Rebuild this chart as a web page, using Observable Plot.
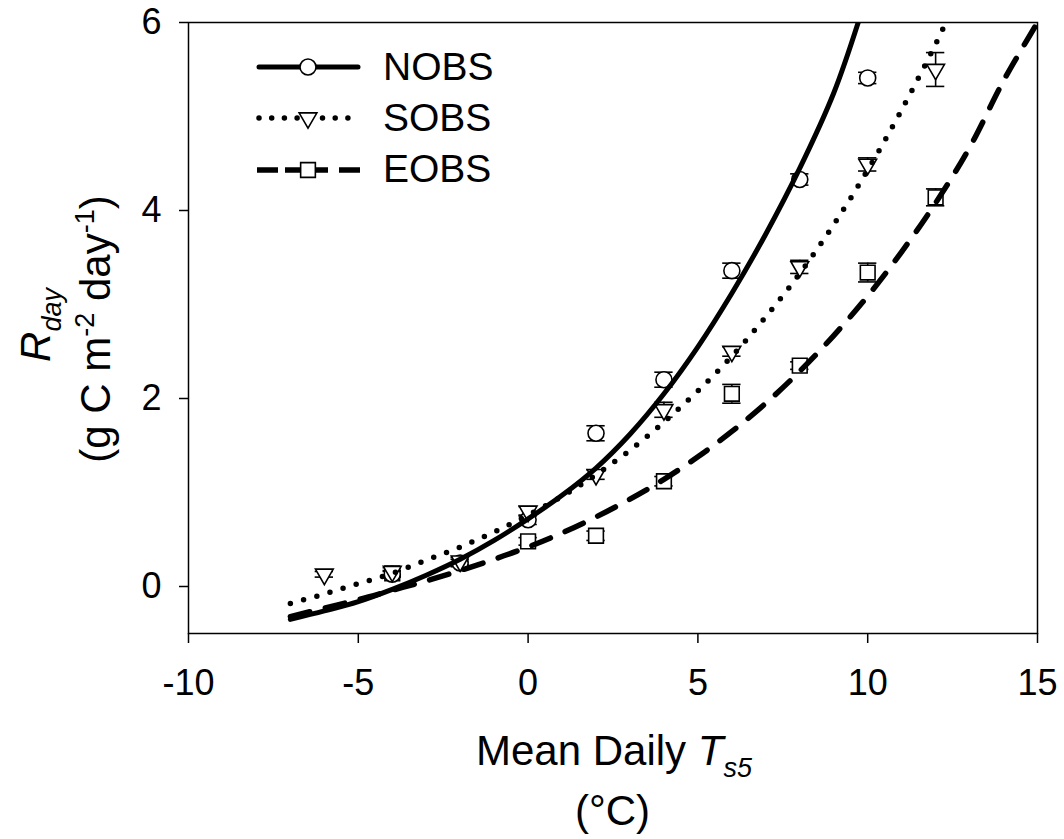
<!DOCTYPE html>
<html>
<head>
<meta charset="utf-8">
<script src="https://cdn.jsdelivr.net/npm/d3@7"></script>
<script src="https://cdn.jsdelivr.net/npm/@observablehq/plot@0.6"></script>
<style>
  body { margin: 0; background: #fff; }
  svg { font-family: "Liberation Sans", Arial, Helvetica, sans-serif; }
</style>
</head>
<body>
<div id="chart"></div>
<script>
// ---- tick labels ----
const xTicks = [-10, -5, 0, 5, 10, 15];
const yTicks = [0, 2, 4, 6];
const seriesNames = ["NOBS", "SOBS", "EOBS"];

// ---- observed points (mean daily Ts5, Rday, standard error) ----
const nobsT  = [-4, -2, 0, 2, 4, 6, 8, 10];
const nobsR  = [0.13, 0.25, 0.71, 1.63, 2.20, 3.36, 4.33, 5.41];
const nobsSE = [0.03, 0.04, 0.05, 0.08, 0.08, 0.08, 0.06, 0.06];

const sobsT  = [-6, -4, -2, 0, 2, 4, 6, 8, 10, 12];
const sobsR  = [0.13, 0.16, 0.27, 0.80, 1.19, 1.88, 2.50, 3.40, 4.49, 5.50];
const sobsSE = [0.03, 0.04, 0.04, 0.05, 0.05, 0.08, 0.05, 0.07, 0.07, 0.18];

const eobsT  = [-4, 0, 2, 4, 6, 8, 10, 12];
const eobsR  = [0.14, 0.48, 0.54, 1.12, 2.05, 2.35, 3.34, 4.14];
const eobsSE = [0.03, 0.04, 0.05, 0.05, 0.10, 0.04, 0.10, 0.09];

// ---- fitted curves ----
const nobsCurveT = [-7, -6, -5, -4, -3, -2, -1, 0, 1, 2, 3, 4, 5, 6, 7, 8, 9, 9.72];
const nobsCurveR = [-0.35, -0.26, -0.16, -0.03, 0.12, 0.29, 0.49, 0.72, 0.97, 1.26, 1.62, 2.05, 2.55, 3.12, 3.75, 4.45, 5.25, 6.0];

const sobsCurveT = [-7, -6, -5, -4, -3, -2, -1, 0, 1, 2, 3, 4, 5, 6, 7, 8, 9, 10, 11, 12, 12.3];
const sobsCurveR = [-0.18, -0.08, 0.03, 0.14, 0.28, 0.42, 0.58, 0.76, 0.96, 1.19, 1.45, 1.75, 2.08, 2.45, 2.87, 3.33, 3.85, 4.43, 5.07, 5.77, 6.0];

const eobsCurveT = [-7, -6, -5, -4, -3, -2, -1, 0, 1, 2, 3, 4, 5, 6, 7, 8, 9, 10, 11, 12, 13, 14, 15];
const eobsCurveR = [-0.32, -0.23, -0.14, -0.04, 0.06, 0.17, 0.29, 0.42, 0.57, 0.74, 0.93, 1.14, 1.38, 1.65, 1.95, 2.29, 2.67, 3.09, 3.56, 4.08, 4.67, 5.38, 6.0];

// ---- build tables ----
const pts = (T, R, SE, s) => T.map((t, i) => ({t, r: R[i], se: SE[i], s}));
const crv = (T, R, s) => T.map((t, i) => ({t, r: R[i], s}));
const nobs = pts(nobsT, nobsR, nobsSE, seriesNames[0]);
const sobs = pts(sobsT, sobsR, sobsSE, seriesNames[1]);
const eobs = pts(eobsT, eobsR, eobsSE, seriesNames[2]);
const allPts = [...nobs, ...sobs, ...eobs];

const triDown = {
  draw(ctx, size) {
    const s = Math.sqrt(4 * size / Math.sqrt(3));
    const h = s * Math.sqrt(3) / 2;
    ctx.moveTo(-s / 2, -h / 3);
    ctx.lineTo(s / 2, -h / 3);
    ctx.lineTo(0, 2 * h / 3);
    ctx.closePath();
  }
};

const capHalf = 0.27;
const lw = 1.6;
const fmt = d => String(d);

const plot = Plot.plot({
  width: 1064,
  height: 839,
  marginLeft: 188,
  marginRight: 27,
  marginTop: 22,
  marginBottom: 206,
  x: {domain: [-10, 15]},
  y: {domain: [-0.5, 6]},
  style: {background: "white", color: "black", fontFamily: "'Liberation Sans', Arial, sans-serif"},
  marks: [
    Plot.axisX(xTicks, {tickSize: 10, tickPadding: 26, fontSize: 36, strokeWidth: 1.5, label: null, tickFormat: fmt}),
    Plot.axisY(yTicks, {tickSize: 9, tickPadding: 18, fontSize: 36, strokeWidth: 1.5, label: null, tickFormat: fmt}),
    // error bars
    Plot.ruleX(allPts, {x: "t", y1: d => d.r - d.se, y2: d => d.r + d.se, stroke: "black", strokeWidth: lw}),
    Plot.ruleY(allPts, {y: d => d.r + d.se, x1: d => d.t - capHalf, x2: d => d.t + capHalf, stroke: "black", strokeWidth: lw}),
    Plot.ruleY(allPts, {y: d => d.r - d.se, x1: d => d.t - capHalf, x2: d => d.t + capHalf, stroke: "black", strokeWidth: lw}),
    // markers
    Plot.dot(eobs, {x: "t", y: "r", symbol: "square", r: 8.3, fill: "white", stroke: "black", strokeWidth: lw}),
    Plot.dot(nobs, {x: "t", y: "r", symbol: "circle", r: 8, fill: "white", stroke: "black", strokeWidth: lw}),
    Plot.dot(sobs, {x: "t", y: "r", symbol: triDown, r: 6.6, fill: "white", stroke: "black", strokeWidth: lw}),
    // fitted curves
    Plot.line(crv(nobsCurveT, nobsCurveR, "NOBS"), {x: "t", y: "r", curve: "catmull-rom", stroke: "black", strokeWidth: 5, strokeLinecap: "round", clip: true}),
    Plot.line(crv(sobsCurveT, sobsCurveR, "SOBS"), {x: "t", y: "r", curve: "catmull-rom", stroke: "black", strokeWidth: 5.5, strokeDasharray: "0 13.7", strokeLinecap: "round", clip: true}),
    Plot.line(crv(eobsCurveT, eobsCurveR, "EOBS"), {x: "t", y: "r", curve: "catmull-rom", stroke: "black", strokeWidth: 5.5, strokeDasharray: "20 16", strokeLinecap: "round", clip: true}),
    Plot.frame({stroke: "black", strokeWidth: 1.5})
  ]
});

const svg = d3.select(plot);
const F = "'Liberation Sans', Arial, sans-serif";

// ---- legend ----
const lg = svg.append("g").attr("fill", "none").attr("stroke", "black");
const legendY = [67, 118, 170];
const legendBase = [80, 131, 182];
lg.append("line").attr("x1", 259).attr("x2", 358).attr("y1", legendY[0]).attr("y2", legendY[0])
  .attr("stroke-width", 5).attr("stroke-linecap", "round");
lg.append("line").attr("x1", 259).attr("x2", 360).attr("y1", legendY[1]).attr("y2", legendY[1])
  .attr("stroke-width", 5.5).attr("stroke-linecap", "round").attr("stroke-dasharray", "0 12.7");
lg.append("line").attr("x1", 257).attr("x2", 360).attr("y1", legendY[2]).attr("y2", legendY[2])
  .attr("stroke-width", 5.5).attr("stroke-dasharray", "21 7 43 11 21");
lg.append("circle").attr("cx", 308).attr("cy", legendY[0]).attr("r", 8)
  .attr("fill", "white").attr("stroke-width", lw);
lg.append("path").attr("transform", `translate(308,${legendY[1]})`)
  .attr("d", d3.symbol(triDown, Math.PI * 6.6 * 6.6)())
  .attr("fill", "white").attr("stroke-width", lw);
lg.append("path").attr("transform", `translate(308,${legendY[2]})`)
  .attr("d", d3.symbol(d3.symbolSquare, Math.PI * 8.3 * 8.3)())
  .attr("fill", "white").attr("stroke-width", lw);
seriesNames.forEach((name, i) => {
  svg.append("text").attr("x", 383).attr("y", legendBase[i]).attr("text-anchor", "start")
    .attr("font-family", F).attr("font-size", 39).attr("fill", "black").text(name);
});

// ---- axis titles ----
const xt = svg.append("text").attr("x", 614).attr("y", 765).attr("text-anchor", "middle")
  .attr("font-family", F).attr("font-size", 42).attr("fill", "black");
xt.append("tspan").text("Mean Daily ");
xt.append("tspan").attr("font-style", "italic").text("T");
xt.append("tspan").attr("font-style", "italic").attr("font-size", 27).attr("dy", 12).text("s5");

svg.append("text").attr("x", 612.5).attr("y", 825).attr("text-anchor", "middle")
  .attr("font-family", F).attr("font-size", 42).attr("fill", "black").text("(°C)");

const y1 = svg.append("text").attr("transform", "translate(50,325) rotate(-90)").attr("text-anchor", "middle")
  .attr("font-family", F).attr("font-size", 42).attr("fill", "black");
y1.append("tspan").attr("font-style", "italic").text("R");
y1.append("tspan").attr("font-style", "italic").attr("font-size", 27).attr("dy", 11).text("day");

const y2 = svg.append("text").attr("transform", "translate(110,329) rotate(-90)").attr("text-anchor", "middle")
  .attr("font-family", F).attr("font-size", 42).attr("fill", "black");
y2.append("tspan").text("(g C m");
y2.append("tspan").attr("font-size", 27).attr("dy", -16).text("-2");
y2.append("tspan").attr("dy", 16).text(" day");
y2.append("tspan").attr("font-size", 27).attr("dy", -16).text("-1");
y2.append("tspan").attr("dy", 16).text(")");

document.getElementById("chart").appendChild(plot);
</script>
</body>
</html>
